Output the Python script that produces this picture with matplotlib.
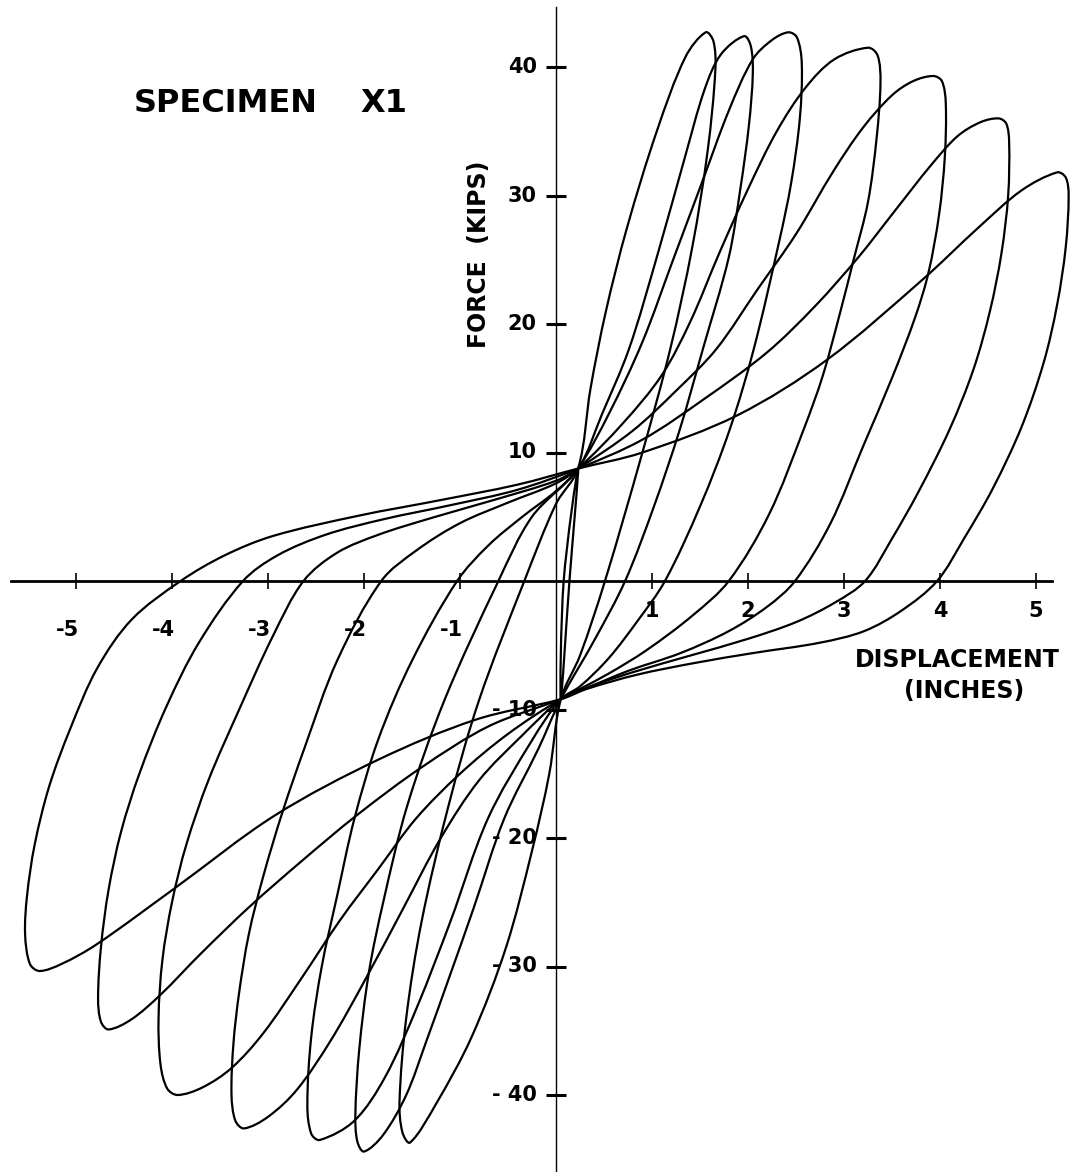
import numpy as np
import matplotlib
matplotlib.use("Agg")
import matplotlib.pyplot as plt
from matplotlib.path import Path
from matplotlib.patches import PathPatch

# load-displacement cycles, each traced once round: (displacement in, force kips)
cycle_1 = [(0.23, 8.75), (0.36, 15.0), (0.52, 21.0), (0.74, 27.5), (1.05, 35.0), (1.35, 40.8),
           (1.56, 42.7), (1.64, 42.0), (1.66, 39.8), (1.58, 33.5), (1.42, 26.0), (1.19, 18.05),
           (0.90, 10.0), (0.51, 0.0), (0.25, -5.8), (0.05, -9.2),
           (-0.07, -15.0), (-0.25, -21.0), (-0.52, -28.5), (-0.88, -35.5), (-1.25, -40.7),
           (-1.52, -43.7), (-1.60, -42.9), (-1.63, -40.5), (-1.56, -34.0), (-1.40, -26.5),
           (-1.12, -17.5), (-0.80, -9.24), (-0.33, 0.0), (0.0, 6.0)]

cycle_2 = [(0.23, 8.75), (0.48, 13.0), (0.76, 18.05), (1.05, 25.2), (1.34, 32.9), (1.55, 38.3),
           (1.72, 41.0), (1.96, 42.4), (2.03, 41.6), (2.05, 39.5), (2.01, 35.5), (1.92, 30.5),
           (1.80, 25.2), (1.53, 18.05), (1.29, 11.8), (1.02, 5.8), (0.72, 0.0), (0.40, -4.6),
           (0.05, -9.2),
           (-0.18, -13.0), (-0.54, -18.5), (-0.86, -25.5), (-1.11, -30.8), (-1.35, -35.8),
           (-1.56, -40.0), (-1.80, -43.1), (-2.00, -44.4), (-2.07, -43.6), (-2.09, -41.5),
           (-2.05, -36.5), (-1.95, -30.5), (-1.80, -25.0), (-1.55, -17.5), (-1.16, -9.24),
           (-0.60, 0.0), (-0.25, 5.0)]

cycle_3 = [(0.23, 8.75), (0.55, 13.0), (0.90, 18.6), (1.22, 25.0), (1.52, 31.0), (1.80, 36.6),
           (2.05, 40.6), (2.25, 42.1), (2.42, 42.7), (2.51, 42.3), (2.56, 40.3), (2.54, 36.0),
           (2.45, 31.0), (2.33, 26.6), (2.06, 18.05), (1.81, 11.8), (1.50, 5.8), (1.135, 0.0),
           (0.85, -3.1), (0.55, -6.0), (0.25, -8.2), (0.05, -9.2),
           (-0.25, -12.4), (-0.71, -18.5), (-1.10, -26.5), (-1.45, -33.2), (-1.78, -38.6),
           (-2.10, -42.0), (-2.46, -43.5), (-2.55, -43.0), (-2.59, -40.8), (-2.55, -35.5),
           (-2.44, -30.0), (-2.28, -24.5), (-2.10, -18.5), (-1.85, -12.3), (-1.50, -6.2),
           (-1.03, 0.0), (-0.70, 2.8), (-0.35, 5.0), (0.0, 7.0)]

cycle_4 = [(0.23, 8.75), (0.70, 12.3), (1.10, 16.0), (1.40, 20.2), (1.70, 25.5), (2.00, 30.5),
           (2.30, 35.0), (2.60, 38.4), (2.90, 40.6), (3.25, 41.5), (3.35, 40.9), (3.38, 38.8),
           (3.34, 34.5), (3.25, 29.5), (3.10, 25.0), (2.96, 20.9), (2.78, 16.0), (2.58, 11.8),
           (2.22, 5.2), (1.80, 0.0), (1.42, -2.7), (0.94, -5.4), (0.55, -7.2), (0.25, -8.4),
           (0.05, -9.2),
           (-0.35, -12.0), (-0.80, -15.5), (-1.20, -20.0), (-1.60, -25.6), (-2.00, -31.2),
           (-2.35, -35.8), (-2.70, -39.6), (-3.00, -41.7), (-3.25, -42.6), (-3.34, -42.0),
           (-3.38, -40.0), (-3.36, -36.0), (-3.30, -32.0), (-3.20, -27.5), (-3.05, -23.0),
           (-2.85, -18.0), (-2.62, -13.0), (-2.28, -6.2), (-1.82, 0.0), (-1.45, 2.4),
           (-1.00, 4.5), (-0.50, 6.1), (0.0, 7.6)]

cycle_5 = [(0.23, 8.75), (0.80, 11.7), (1.25, 14.8), (1.67, 18.05), (2.10, 22.7), (2.50, 27.0),
           (2.89, 31.9), (3.20, 35.3), (3.50, 37.8), (3.72, 38.9), (3.93, 39.3), (4.02, 38.9),
           (4.06, 37.2), (4.05, 33.0), (3.99, 28.5), (3.88, 24.0), (3.74, 20.5), (3.50, 15.8),
           (3.20, 10.5), (2.86, 4.5), (2.49, 0.0), (2.20, -2.0), (1.80, -3.9), (1.30, -5.6),
           (0.75, -7.0), (0.30, -8.4), (0.05, -9.2),
           (-0.50, -11.9), (-1.00, -15.0), (-1.46, -18.5), (-1.85, -22.4), (-2.25, -26.4),
           (-2.65, -30.9), (-3.05, -35.2), (-3.38, -37.9), (-3.68, -39.4), (-3.94, -40.0),
           (-4.05, -39.5), (-4.12, -37.6), (-4.14, -34.0), (-4.10, -29.5), (-4.00, -25.0),
           (-3.85, -20.5), (-3.62, -15.5), (-3.30, -10.0), (-2.95, -4.3), (-2.63, 0.0),
           (-2.28, 2.2), (-1.85, 3.6), (-1.30, 4.9), (-0.65, 6.3), (0.0, 7.8)]

cycle_6 = [(0.23, 8.75), (0.90, 11.0), (1.55, 14.2), (2.20, 17.8), (2.70, 21.4), (3.15, 25.2),
           (3.55, 29.0), (3.90, 32.3), (4.18, 34.6), (4.42, 35.7), (4.61, 36.0), (4.69, 35.6),
           (4.72, 34.2), (4.71, 30.0), (4.64, 25.5), (4.52, 21.0), (4.35, 16.5), (4.10, 11.8),
           (3.78, 7.0), (3.50, 3.3), (3.22, 0.0), (2.90, -1.7), (2.50, -3.2), (2.00, -4.5),
           (1.40, -5.8), (0.80, -7.1), (0.32, -8.3), (0.05, -9.2),
           (-0.70, -11.3), (-1.40, -14.5), (-2.07, -18.2), (-2.65, -21.8), (-3.20, -25.4),
           (-3.70, -29.0), (-4.12, -32.2), (-4.42, -34.1), (-4.66, -34.9), (-4.74, -34.3),
           (-4.77, -32.5), (-4.74, -28.5), (-4.66, -24.0), (-4.53, -19.5), (-4.34, -15.0),
           (-4.06, -9.8), (-3.72, -4.8), (-3.26, 0.0), (-2.90, 2.0), (-2.40, 3.6),
           (-1.80, 4.8), (-1.10, 5.9), (-0.40, 7.1)]

cycle_7 = [(0.23, 8.75), (0.90, 10.0), (1.89, 12.9), (2.82, 17.2), (3.81, 23.4), (4.40, 27.5),
           (4.85, 30.4), (5.22, 31.8), (5.31, 31.4), (5.34, 30.0), (5.31, 26.0), (5.22, 21.5),
           (5.08, 17.0), (4.85, 12.0), (4.55, 7.2), (4.25, 3.3), (3.97, 0.0), (3.60, -2.3),
           (3.21, -3.9), (2.75, -4.8), (2.06, -5.6), (1.43, -6.4), (0.84, -7.3), (0.32, -8.4),
           (0.05, -9.2),
           (-0.84, -10.8), (-1.85, -13.9), (-2.93, -18.25), (-3.97, -23.9), (-4.79, -28.3),
           (-5.15, -29.8), (-5.38, -30.35), (-5.48, -29.8), (-5.53, -27.5), (-5.51, -24.5),
           (-5.43, -20.5), (-5.28, -16.0), (-5.06, -11.5), (-4.78, -6.8), (-4.42, -3.0),
           (-3.91, 0.0), (-3.45, 2.0), (-2.95, 3.5), (-2.07, 5.06), (-1.20, 6.3), (-0.40, 7.5)]

# first small elastic cycle between the two pinch points
cycle_0 = [(0.05, -9.2), (0.14, 0.0), (0.23, 8.75), (0.08, 0.0)]

cycles = [cycle_0, cycle_1, cycle_2, cycle_3, cycle_4, cycle_5, cycle_6, cycle_7]

x_ticks = [-5, -4, -3, -2, -1, 1, 2, 3, 4, 5]
y_ticks = [-40, -30, -20, -10, 10, 20, 30, 40]

# pixels per unit, used only to weight the smoothing
SX, SY = 96.0, 12.85


def loop_path(pts):
    p = np.asarray(pts, float)
    n = len(p)
    q = p * [SX, SY]
    d_next = np.hypot(*(np.roll(q, -1, axis=0) - q).T)
    d_prev = np.roll(d_next, 1)
    tang = (np.roll(p, -1, axis=0) - np.roll(p, 1, axis=0)) / (d_prev + d_next)[:, None]
    verts = [p[0]]
    codes = [Path.MOVETO]
    for i in range(n):
        j = (i + 1) % n
        d = d_next[i]
        verts += [p[i] + tang[i] * d / 3, p[j] - tang[j] * d / 3, p[j]]
        codes += [Path.CURVE4] * 3
    return Path(verts, codes)


plt.rcParams['font.family'] = ['DejaVu Sans']
fig = plt.figure(figsize=(10.73, 11.72), dpi=100)
ax = fig.add_axes([0, 0, 1, 1])
ax.set_xlim(-556 / SX, (1073 - 556) / SX)
ax.set_ylim((581 - 1172) / SY, 581 / SY)

for c in cycles:
    ax.add_patch(PathPatch(loop_path(c), facecolor='none', edgecolor='black', lw=1.6,
                           joinstyle='round'))

# axes through the origin
for s in ['top', 'right']:
    ax.spines[s].set_visible(False)
ax.spines['left'].set_position(('data', 0))
ax.spines['bottom'].set_position(('data', 0))
ax.spines['left'].set_linewidth(1.0)
ax.spines['bottom'].set_linewidth(2.0)
ax.spines['left'].set_bounds(-46, 44.7)
ax.spines['bottom'].set_bounds(-5.68, 5.17)

ax.set_xticks(x_ticks)
ax.set_yticks(y_ticks)
ax.tick_params(axis='x', direction='inout', length=12, width=1.2, labelbottom=False)
ax.tick_params(axis='y', direction='inout', length=15, width=2.2, labelleft=False)

bold = dict(fontweight='bold', color='black')
for v in x_ticks:
    if v < 0:
        ax.text(v - 0.085, -3.8, '-%d' % abs(v), ha='center', va='center', fontsize=15, **bold)
    else:
        ax.text(v, -2.35, '%d' % v, ha='center', va='center', fontsize=15, **bold)
for v in y_ticks:
    lab = '%d' % v if v > 0 else '- %d' % abs(v)
    ax.text(-0.2, v, lab, ha='right', va='center', fontsize=15, **bold)

ax.text(-0.8, 25.4, 'FORCE  (KIPS)', rotation=90, ha='center', va='center',
        fontsize=17, **bold)
ax.text(4.18, -6.15, 'DISPLACEMENT', ha='center', va='center', fontsize=17, **bold)
ax.text(4.25, -8.56, '(INCHES)', ha='center', va='center', fontsize=17, **bold)

fig.text(134 / 1073, 1 - 104 / 1172, 'SPECIMEN', ha='left', va='center', fontsize=23, **bold)
fig.text(360 / 1073, 1 - 104 / 1172, 'X1', ha='left', va='center', fontsize=23, **bold)

fig.savefig('out.png', dpi=100)
